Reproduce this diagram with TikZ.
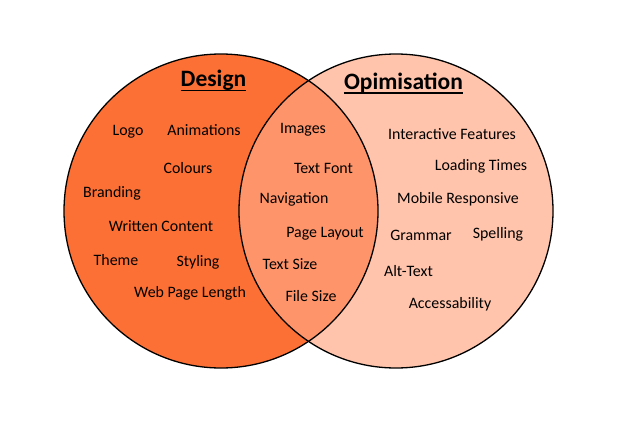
\documentclass[tikz,border=0pt]{standalone}
\usepackage{fontspec}
\setmainfont{Carlito}
\definecolor{designfill}{HTML}{FD7035}
\definecolor{optfill}{HTML}{FFC4AB}
\definecolor{bothfill}{HTML}{FE946A}
\tikzset{
  item/.style={anchor=base, inner sep=0pt, font=\fontsize{15.9}{18}\selectfont, text=black},
  head/.style={anchor=base, inner sep=0pt, font=\fontsize{23.5}{28}\selectfont\bfseries},
  ring/.style={draw=black, line width=1.3pt},
  uline/.style={line width=1.6pt}
}
\begin{document}
\begin{tikzpicture}[x=1pt,y=-1pt]
\useasboundingbox (0,0) rectangle (620,425);
\coordinate (cl) at (221,211);
\coordinate (cr) at (396,211);
\fill[designfill] (cl) circle (157pt);
\fill[optfill] (cr) circle (157pt);
\begin{scope}
  \clip (cl) circle (157pt);
  \fill[bothfill] (cr) circle (157pt);
\end{scope}
\draw[ring] (cl) circle (157pt);
\draw[ring] (cr) circle (157pt);

\node[head] (design) at (213.5,86.5) {Design};
\draw[uline] ([yshift=-4pt]design.base west) -- ([yshift=-4pt]design.base east);
\node[head] (opt) at (403.5,89) {Opimisation};
\draw[uline] ([yshift=-4pt]opt.base west) -- ([yshift=-4pt]opt.base east);

% Design only
\node[item] (logo) at (128,135) {Logo};
\node[item] (anim) at (204,135) {Animations};
\node[item] (col) at (188,173) {Colours};
\node[item] (brand) at (112,197) {Branding};
\node[item] (written) at (161,231) {Written Content};
\node[item] (theme) at (116,265) {Theme};
\node[item] (styling) at (198,266) {Styling};
\node[item] (webpage) at (190,297) {Web Page Length};

% Both
\node[item] (images) at (303,133) {Images};
\node[item] (tfont) at (323.5,173) {Text Font};
\node[item] (nav) at (294,203) {Navigation};
\node[item] (playout) at (325,237) {Page Layout};
\node[item] (tsize) at (290,269) {Text Size};
\node[item] (fsize) at (311,301) {File Size};

% Optimisation only
\node[item] (inter) at (452,139) {Interactive Features};
\node[item] (loading) at (481,170) {Loading Times};
\node[item] (mobile) at (458,203) {Mobile Responsive};
\node[item] (grammar) at (421,240) {Grammar};
\node[item] (spelling) at (498,238) {Spelling};
\node[item] (alt) at (408.5,276) {Alt-Text};
\node[item] (access) at (450,308) {Accessability};
\end{tikzpicture}
\end{document}
